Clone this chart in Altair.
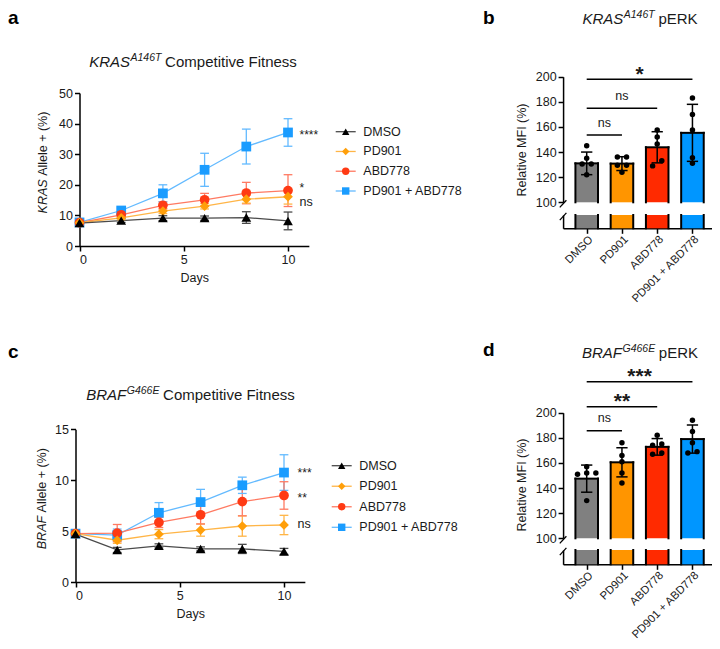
import json
import altair as alt
import pandas as pd

FONT = "Liberation Sans"
INK = "#1a1a1a"
W, H = 704, 633  # drawing canvas = 720x649 page minus its 8px margin

# ---------------- data ----------------
days = [0, 2, 4, 6, 8, 10]
series = ["DMSO", "PD901", "ABD778", "PD901 + ABD778"]

# (a) KRAS A146T competitive fitness, KRAS allele + (%) mean and SD
kras_dmso = [7.5, 8.3, 9.1, 9.1, 9.3, 8.2]
kras_dmso_sd = [0.4, 0.6, 0.8, 0.7, 1.9, 2.9]
kras_pd901 = [7.6, 9.2, 11.4, 13.0, 15.3, 16.1]
kras_pd901_sd = [0.4, 0.6, 0.8, 0.9, 1.3, 2.4]
kras_abd778 = [7.6, 10.2, 13.3, 15.1, 17.3, 18.1]
kras_abd778_sd = [0.4, 0.7, 1.2, 2.1, 3.5, 5.2]
kras_combo = [7.7, 11.6, 17.2, 24.9, 32.5, 37.1]
kras_combo_sd = [0.5, 0.8, 2.8, 5.4, 5.7, 4.5]
kras_fit_sig = ["ns", "*", "****"]          # vs DMSO: PD901, ABD778, combo

# (c) BRAF G466E competitive fitness, BRAF allele + (%) mean and SD
braf_dmso = [4.7, 3.15, 3.55, 3.25, 3.25, 3.0]
braf_dmso_sd = [0.15, 0.25, 0.2, 0.2, 0.45, 0.3]
braf_pd901 = [4.75, 4.1, 4.7, 5.1, 5.5, 5.6]
braf_pd901_sd = [0.15, 0.3, 0.45, 0.6, 1.0, 0.95]
braf_abd778 = [4.75, 4.8, 5.85, 6.6, 7.9, 8.5]
braf_abd778_sd = [0.15, 0.85, 0.5, 0.9, 1.4, 1.35]
braf_combo = [4.75, 4.6, 6.8, 7.85, 9.5, 10.75]
braf_combo_sd = [0.15, 0.6, 1.0, 1.25, 0.8, 1.75]
braf_fit_sig = ["ns", "**", "***"]

# (b) KRAS A146T pERK, relative MFI (%)
kras_perk_mean = [131.0, 130.8, 143.8, 155.3]
kras_perk_sd = [9.0, 5.5, 12.4, 22.7]
kras_perk_dmso = [145, 135, 130.5, 130.5, 122]
kras_perk_pd901 = [136, 136, 129.5, 129.5, 124]
kras_perk_abd778 = [157.5, 152, 146.5, 133, 129]
kras_perk_combo = [183, 170, 157.5, 135.5, 131]
kras_perk_sig = ["ns", "ns", "*"]           # DMSO vs PD901, ABD778, combo

# (d) BRAF G466E pERK, relative MFI (%)
braf_perk_mean = [147.5, 160.5, 172.8, 179.0]
braf_perk_sd = [10.8, 11.6, 6.6, 11.2]
braf_perk_dmso = [157, 152, 152, 151, 130]
braf_perk_pd901 = [176, 166, 161, 152, 144]
braf_perk_abd778 = [182, 175, 174, 168, 167]
braf_perk_combo = [194, 185, 176, 169, 168]
braf_perk_sig = ["ns", "**", "***"]

# ---------------- style ----------------
shapes = ["triangle-up", "diamond", "circle", "square"]
marker_colors = ["#000000", "#FF9F0A", "#FF3A14", "#1A9CFF"]
line_colors = ["#4A4A4A", "#FFB547", "#FF7A62", "#63BAFF"]
bar_colors = ["#808080", "#FF9500", "#FF2A00", "#0096FF"]

ARIAL = {" ": 278, "%": 889, "(": 333, ")": 333, "+": 584, "*": 389,
         "A": 667, "B": 667, "C": 722, "D": 722, "E": 667, "F": 611, "G": 778,
         "I": 278, "K": 667, "M": 833, "O": 778, "P": 667, "R": 722, "S": 667,
         "T": 611, "a": 556, "c": 500, "e": 556, "i": 222, "l": 222, "m": 833,
         "n": 556, "o": 556, "p": 556, "s": 500, "t": 278, "v": 500, "y": 500}


def tw(text, size):
    return sum(ARIAL.get(ch, 556) for ch in text) * size / 1000.0


AX = dict(domainColor="black", domainWidth=1.5, tickColor="black", tickWidth=1.5,
          tickSize=5, labelFont=FONT, labelColor=INK, grid=False)


def text_at(txt, x, y, size, **kw):
    color = kw.pop("color", INK)
    return alt.Chart(pd.DataFrame({"t": [txt]})).mark_text(
        font=FONT, fontSize=size, color=color, **kw
    ).encode(x=alt.value(x), y=alt.value(y), text="t:N")


def rich_title(gene, allele, rest, cx, base, size=15, sup=10.5):
    w1, w2, gap, w3 = tw(gene, size), tw(allele, sup), tw(" ", size), tw(rest, size)
    x = cx - (w1 + w2 + gap + w3) / 2
    return [
        text_at(gene, x, base, size, fontStyle="italic", align="left", baseline="alphabetic"),
        text_at(allele, x + w1 + 0.5, base - 6, sup, fontStyle="italic", align="left", baseline="alphabetic"),
        text_at(rest, x + w1 + w2 + gap, base, size, align="left", baseline="alphabetic"),
    ]


def rot_title(parts, x, cy, size):
    gap = tw(" ", size)
    widths = [tw(t, size) for t, _ in parts]
    y = cy + (sum(widths) + gap * (len(parts) - 1)) / 2
    out = []
    for (t, style), w in zip(parts, widths):
        out.append(text_at(t, x, y, size, angle=270, align="left", baseline="middle", fontStyle=style))
        y -= w + gap
    return out


# ---------------- line panels (a, c) ----------------
DAY_PX = 20.85
CAP_DAYS = 0.21


def fitness_panel(means, sds, sig_labels, sig_nudge, ax_x, ax_y0, ax_ytop, ymax, yvals,
                  leg_top, leg_bot, leg_x, sig_day):
    rows = []
    for s, m, e in reversed(list(zip(series, means, sds))):  # DMSO drawn last
        for d, v, sd in zip(days, m, e):
            rows.append(dict(series=s, day=d, value=v, lo=v - sd, hi=v + sd,
                             cl=d - CAP_DAYS, cr=d + CAP_DAYS))
    df = pd.DataFrame(rows)
    xs = alt.Scale(domain=[0, 11], range=[ax_x, ax_x + 11 * DAY_PX], nice=False, zero=False)
    ys = alt.Scale(domain=[0, ymax], range=[ax_y0, ax_ytop], nice=False, zero=False)
    xax = alt.Axis(values=[0, 5, 10], orient="bottom", offset=ax_y0 - H, title="Days",
                   titleFont=FONT, titleFontSize=12.5, titleFontWeight="normal",
                   titleColor=INK, titlePadding=6, labelFontSize=12.5, labelPadding=2, **AX)
    yax = alt.Axis(values=yvals, orient="left", offset=-ax_x, title=None,
                   labelFontSize=12.5, labelPadding=2, **AX)

    def X(f):
        return alt.X(f, scale=xs, axis=xax)

    def Y(f):
        return alt.Y(f, scale=ys, axis=yax)

    S = alt.Stroke("series:N", scale=alt.Scale(domain=series, range=line_colors), legend=None)
    C = alt.Color("series:N", scale=alt.Scale(domain=series, range=marker_colors), legend=None)
    SH = alt.Shape("series:N", scale=alt.Scale(domain=series, range=shapes), legend=None)

    base = alt.Chart(df)
    lines = base.mark_line(strokeWidth=1.3).encode(x=X("day:Q"), y=Y("value:Q"), stroke=S)
    err = base.mark_rule(strokeWidth=1.3).encode(x=X("day:Q"), y=Y("lo:Q"), y2="hi:Q", stroke=S)
    cap_hi = base.mark_rule(strokeWidth=1.3).encode(x=X("cl:Q"), x2="cr:Q", y=Y("hi:Q"), stroke=S)
    cap_lo = base.mark_rule(strokeWidth=1.3).encode(x=X("cl:Q"), x2="cr:Q", y=Y("lo:Q"), stroke=S)
    pts = base.mark_point(filled=True, size=95, opacity=1).encode(
        x=X("day:Q"), y=Y("value:Q"), color=C, shape=SH)

    sig = pd.DataFrame({
        "day": [sig_day] * 3,
        "value": [m[-1] + n for m, n in zip(means[1:], sig_nudge)],
        "label": sig_labels,
    })
    sig["star"] = sig["label"].str.startswith("*")
    stars = alt.Chart(sig[sig.star]).mark_text(
        font=FONT, fontSize=12, color=INK, align="left", baseline="alphabetic", dy=7
    ).encode(x=X("day:Q"), y=Y("value:Q"), text="label:N")
    ns = alt.Chart(sig[~sig.star]).mark_text(
        font=FONT, fontSize=12.5, color=INK, align="left", baseline="alphabetic", dy=3.3
    ).encode(x=X("day:Q"), y=Y("value:Q"), text="label:N")

    leg = pd.DataFrame({"series": series})
    LY = alt.Y("series:N", scale=alt.Scale(type="point", domain=series,
                                           range=[leg_top, leg_bot], padding=0), axis=None)
    lb = alt.Chart(leg)
    leg_line = lb.mark_rule(strokeWidth=1.3).encode(
        x=alt.value(leg_x - 10), x2=alt.value(leg_x + 10), y=LY, stroke=S)
    leg_pt = lb.mark_point(filled=True, size=55, opacity=1).encode(
        x=alt.value(leg_x), y=LY, color=C, shape=SH)
    leg_tx = lb.mark_text(font=FONT, fontSize=12.5, color=INK, align="left", baseline="middle").encode(
        x=alt.value(leg_x + 17.6), y=LY, text="series:N")

    plot = alt.layer(lines, err, cap_hi, cap_lo, pts, stars, ns)
    legend = alt.layer(leg_line, leg_pt, leg_tx)
    return alt.layer(plot, legend).resolve_scale(y="independent")


# ---------------- bar panels (b, d) ----------------
BAR_I0 = 578.7
BAR_STEP = 35.25
BAR_HALF = 0.32
CAP_I = 0.16
DOT_STEP = 0.26
LABEL_EXPR = json.dumps(series) + "[datum.value]"


def swarm(vals, thr=4.4):
    """Spread near-equal values sideways, GraphPad-style (lower value to the left)."""
    order = sorted(range(len(vals)), key=lambda i: vals[i])
    offs = [0.0] * len(vals)
    cluster = [order[0]]
    groups = []
    for i in order[1:]:
        if vals[i] - vals[cluster[-1]] < thr:
            cluster.append(i)
        else:
            groups.append(cluster)
            cluster = [i]
    groups.append(cluster)
    for g in groups:
        n = len(g)
        for k, i in enumerate(g):
            offs[i] = (k - (n - 1) / 2) * DOT_STEP
    return offs


def perk_panel(means, sds, point_sets, sig_labels, levels, lifts, y100, y200, low_top, low_bot):
    ax_x = BAR_I0 - 0.67 * BAR_STEP
    xs = alt.Scale(domain=[-0.67, 3.67], range=[ax_x, BAR_I0 + 3.67 * BAR_STEP], nice=False, zero=False)
    ys = alt.Scale(domain=[100, 200], range=[y100, y200], nice=False, zero=False)
    ls = alt.Scale(domain=[0, 1], range=[low_bot, low_top], nice=False, zero=False)
    xax = alt.Axis(values=[0, 1, 2, 3], labelExpr=LABEL_EXPR, labelAngle=-45, orient="bottom",
                   offset=low_bot - H, title=None, labelFontSize=11.3, labelPadding=0,
                   labelOverlap=False, **AX)
    yax = alt.Axis(values=[100, 120, 140, 160, 180, 200], orient="left", offset=-ax_x,
                   title=None, labelFontSize=12.5, labelPadding=2, **AX)
    lax = alt.Axis(orient="left", offset=-ax_x, title=None, labels=False, ticks=False,
                   domain=True, grid=False, domainColor="black", domainWidth=1.5)

    def X(f):
        return alt.X(f, scale=xs, axis=xax)

    def Y(f):
        return alt.Y(f, scale=ys, axis=yax)

    def L(f):
        return alt.Y(f, scale=ls, axis=lax)

    idx = list(range(len(series)))
    bars = pd.DataFrame({
        "cat": series, "idx": idx, "mean": means,
        "lo": [m - s for m, s in zip(means, sds)], "hi": [m + s for m, s in zip(means, sds)],
        "x0": [i - BAR_HALF for i in idx], "x1": [i + BAR_HALF for i in idx],
        "cl": [i - CAP_I for i in idx], "cr": [i + CAP_I for i in idx],
        "base": [100] * 4, "b0": [0] * 4, "b1": [1] * 4,
    })
    F = alt.Fill("cat:N", scale=alt.Scale(domain=series, range=bar_colors), legend=None)
    bb = alt.Chart(bars)
    edge = dict(color="black", strokeWidth=2, strokeCap="square")
    up_fill = bb.mark_rect(strokeWidth=0).encode(x=X("x0:Q"), x2="x1:Q", y=Y("mean:Q"), y2="base:Q", fill=F)
    up_l = bb.mark_rule(**edge).encode(x=X("x0:Q"), y=Y("mean:Q"), y2="base:Q")
    up_r = bb.mark_rule(**edge).encode(x=X("x1:Q"), y=Y("mean:Q"), y2="base:Q")
    up_t = bb.mark_rule(**edge).encode(x=X("x0:Q"), x2="x1:Q", y=Y("mean:Q"))
    eb = bb.mark_rule(color="black", strokeWidth=1.5).encode(x=X("idx:Q"), y=Y("lo:Q"), y2="hi:Q")
    ec1 = bb.mark_rule(color="black", strokeWidth=1.5).encode(x=X("cl:Q"), x2="cr:Q", y=Y("hi:Q"))
    ec2 = bb.mark_rule(color="black", strokeWidth=1.5).encode(x=X("cl:Q"), x2="cr:Q", y=Y("lo:Q"))

    prow = []
    for i, vals in enumerate(point_sets):
        for v, o in zip(vals, swarm(vals)):
            prow.append({"cat": series[i], "xp": i + o, "value": v})
    pts = alt.Chart(pd.DataFrame(prow)).mark_circle(size=30, color="black", opacity=1).encode(
        x=X("xp:Q"), y=Y("value:Q"))

    sig = pd.DataFrame({
        "a": [0, 0, 0], "b": [1, 2, 3], "lvl": levels, "label": sig_labels,
        "cx": [0.5, 1.0, 1.5], "ty": [l + d for l, d in zip(levels, lifts)],
    })
    sig["star"] = sig["label"].str.startswith("*")
    sl = alt.Chart(sig).mark_rule(color="black", strokeWidth=1.5).encode(
        x=X("a:Q"), x2="b:Q", y=Y("lvl:Q"))
    st = alt.Chart(sig[sig.star]).mark_text(
        font=FONT, fontSize=21, fontWeight="bold", color=INK, baseline="alphabetic", dy=12
    ).encode(x=X("cx:Q"), y=Y("ty:Q"), text="label:N")
    sn = alt.Chart(sig[~sig.star]).mark_text(
        font=FONT, fontSize=12.5, color=INK, baseline="alphabetic", dy=3.3
    ).encode(x=X("cx:Q"), y=Y("ty:Q"), text="label:N")

    lo_fill = bb.mark_rect(strokeWidth=0).encode(x=X("x0:Q"), x2="x1:Q", y=L("b0:Q"), y2="b1:Q", fill=F)
    lo_l = bb.mark_rule(**edge).encode(x=X("x0:Q"), y=L("b0:Q"), y2="b1:Q")
    lo_r = bb.mark_rule(**edge).encode(x=X("x1:Q"), y=L("b0:Q"), y2="b1:Q")

    main = alt.layer(up_fill, up_l, up_r, up_t, eb, ec1, ec2, pts, sl, st, sn)
    lower = alt.layer(lo_fill, lo_l, lo_r)
    one = pd.DataFrame({"k": [0]})
    slashes = []
    for yc in (y100 + 1.5, low_top + 1.5):
        slashes.append(alt.Chart(one).mark_rule(color="black", strokeWidth=1.3).encode(
            x=alt.value(ax_x - 3.3), x2=alt.value(ax_x + 3.3),
            y=alt.value(yc + 3.6), y2=alt.value(yc - 3.6)))
    return alt.layer(alt.layer(main, lower).resolve_scale(y="independent"), *slashes)


# ---------------- assemble ----------------
panel_a = fitness_panel(
    [kras_dmso, kras_pd901, kras_abd778, kras_combo],
    [kras_dmso_sd, kras_pd901_sd, kras_abd778_sd, kras_combo_sd],
    kras_fit_sig, [-2.1, 1.7, 0.25],
    ax_x=71.5, ax_y0=238, ax_ytop=85, ymax=50, yvals=[0, 10, 20, 30, 40, 50],
    leg_top=123.7, leg_bot=183, leg_x=337.7, sig_day=10.55)

panel_c = fitness_panel(
    [braf_dmso, braf_pd901, braf_abd778, braf_combo],
    [braf_dmso_sd, braf_pd901_sd, braf_abd778_sd, braf_combo_sd],
    braf_fit_sig, [0.0, 0.05, 0.25],
    ax_x=67.5, ax_y0=574, ax_ytop=421.3, ymax=15, yvals=[0, 5, 10, 15],
    leg_top=457.7, leg_bot=519.3, leg_x=333.7, sig_day=10.65)

panel_b = perk_panel(
    kras_perk_mean, kras_perk_sd,
    [kras_perk_dmso, kras_perk_pd901, kras_perk_abd778, kras_perk_combo],
    kras_perk_sig, [153.6, 174.8, 197.9], [9.3, 9.3, 8.1],
    y100=194.3, y200=68.7, low_top=207, low_bot=220.3)

panel_d = perk_panel(
    braf_perk_mean, braf_perk_sd,
    [braf_perk_dmso, braf_perk_pd901, braf_perk_abd778, braf_perk_combo],
    braf_perk_sig, [185.7, 204.8, 224.7], [9.8, 8.5, 8.5],
    y100=530.3, y200=404.7, low_top=542, low_bot=556.3)

texts = []
texts += rich_title("KRAS", "A146T", "Competitive Fitness", 185, 58.5)
texts += rich_title("BRAF", "G466E", "Competitive Fitness", 182.5, 392)
texts += rich_title("KRAS", "A146T", "pERK", 632, 15.5)
texts += rich_title("BRAF", "G466E", "pERK", 632, 350.3)
texts += rot_title([("KRAS", "italic"), ("Allele + (%)", "normal")], 35.3, 154.5, 12.5)
texts += rot_title([("BRAF", "italic"), ("Allele + (%)", "normal")], 33.7, 490.7, 12.5)
texts += rot_title([("Relative MFI (%)", "normal")], 514, 142, 12.5)
texts += rot_title([("Relative MFI (%)", "normal")], 514, 477, 12.5)
for letter, lx, ly in [("a", 0, 16), ("b", 475, 16), ("c", 0, 350), ("d", 475, 348)]:
    texts.append(text_at(letter, lx, ly, 19, fontWeight="bold", align="left",
                         baseline="alphabetic", color="black"))

chart = alt.layer(panel_a, panel_b, panel_c, panel_d, *texts).resolve_scale(
    x="independent", y="independent"
).properties(
    width=W, height=H, padding=0, autosize=alt.AutoSizeParams(type="none")
).configure_view(stroke=None)

chart.save("out.html", embed_options={"renderer": "svg", "actions": False})
